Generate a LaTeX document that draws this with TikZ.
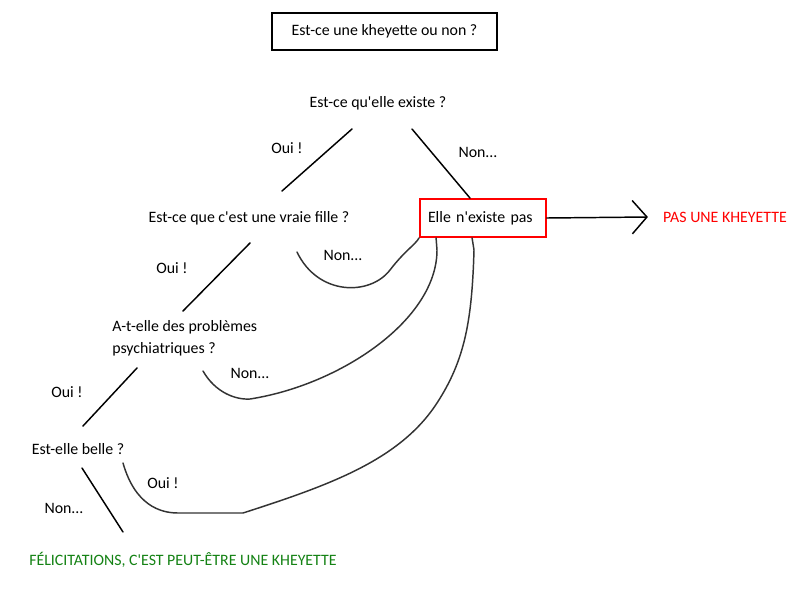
\documentclass[tikz,border=0pt]{standalone}
\usepackage{fontspec}
\setmainfont{Carlito}[Ligatures=TeXOff]
\usetikzlibrary{arrows.meta, positioning, calc}
\definecolor{kheyred}{RGB}{255,0,0}
\definecolor{kheygreen}{RGB}{20,130,20}

\begin{document}
\begin{tikzpicture}[x=0.75pt, y=-0.75pt,
    txt/.style={inner sep=0pt, font=\fontsize{11.9}{16.5}\selectfont},
    branch/.style={line width=1.1pt, line cap=round},
    hand/.style={line width=1.1pt, draw=black!80, line cap=round, line join=round}]
\useasboundingbox (0,0) rectangle (800,600);
% Questions
\node[txt, draw, line width=1pt, minimum width=168.75pt, minimum height=27.75pt] (titre) at (384.5,31.5) {Est-ce une kheyette ou non ?};
\node[txt] (existe) at (378,103) {Est-ce qu'elle existe ?};
\node[txt] (fille) at (249,218) {Est-ce que c'est une vraie fille ?};
\node[txt, align=left, anchor=west] (atelle) at (112,338) {A-t-elle des problèmes\\psychiatriques ?};
\node[txt] (belle) at (78,449) {Est-elle belle ?};
% Results
\node[txt, draw=kheyred, line width=1.4pt, align=left, inner xsep=6pt, text width=82.5pt, minimum height=28.5pt] (pas) at (483,218) {Elle n'existe pas};
\node[txt, text=kheyred] (pasune) at (725,217) {PAS UNE KHEYETTE};
\node[txt, text=kheygreen] (felic) at (183,560) {FÉLICITATIONS, C'EST PEUT-ÊTRE UNE KHEYETTE};
% Answers
\node[txt] (oui1) at (287,148) {Oui !};
\node[txt] (non1) at (478,152) {Non...};
\node[txt] (oui2) at (172,268) {Oui !};
\node[txt] (non2) at (343,255) {Non...};
\node[txt] (oui3) at (67,392) {Oui !};
\node[txt] (non3) at (250,373) {Non...};
\node[txt] (oui4) at (163,483) {Oui !};
\node[txt] (non4) at (64,508) {Non...};
% Branches
\draw[branch] ([shift={(-26,26)}]existe.center) -- ([shift={(33,-27)}]fille.center);
\draw[branch] ([shift={(34,26)}]existe.center) -- ([shift={(-13,0)}]pas.north);
\draw[branch] ([shift={(1,25)}]fille.center) -- ([shift={(71,-27)}]atelle.west);
\draw[branch] ([shift={(25,30)}]atelle.west) -- ([shift={(5,-23)}]belle.center);
\draw[branch] ([shift={(4,19)}]belle.center) -- ([shift={(-60,-28)}]felic.center);
\draw[branch, -{Straight Barb[length=11pt, width=25pt]}] (pas.east) -- ([shift={(-15,0)}]pasune.west);
% Hand drawn returns
\draw[hand] ([shift={(48,34)}]fille.center) .. controls (318,296) and (370,296) .. (390,270)
    .. controls (405,250.5) and (415,245) .. (pas.south west);
\draw[hand] ([shift={(91,33)}]atelle.west) .. controls (215,392) and (235,400) .. (250,399)
    .. controls (340,385) and (437,320) .. (437,250) -- ([shift={(17,0)}]pas.south west);
\draw[hand] ([shift={(45,14)}]belle.center) .. controls (135,505) and (160,513) .. (178,513) -- (243,513)
    .. controls (330,485) and (400,460) .. (437,403)
    .. controls (465,360) and (472,320) .. (474,250) -- ([shift={(53,0)}]pas.south west);
\end{tikzpicture}
\end{document}
